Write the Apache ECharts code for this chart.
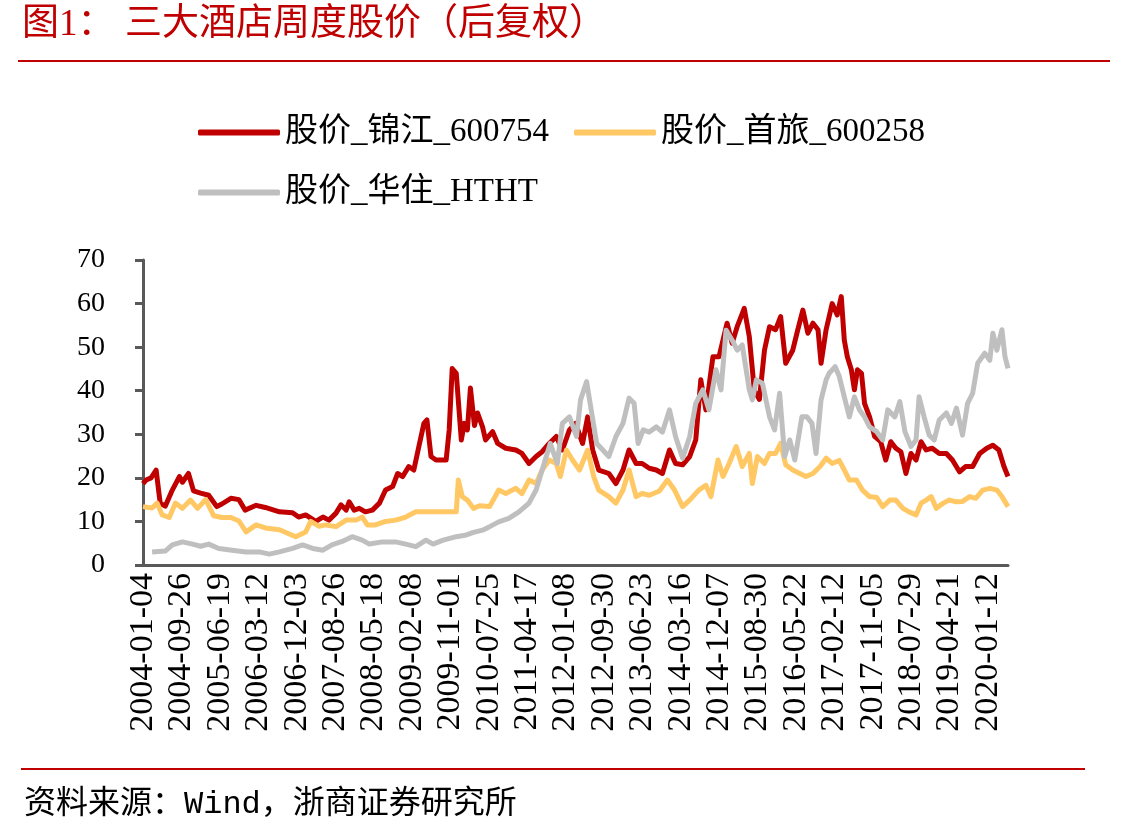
<!DOCTYPE html>
<html>
<head>
    <meta charset="utf-8" />
    <title>三大酒店周度股价</title>
    <style type="text/css">
        html,body{margin:0;padding:0;background-color:#fff;}
        #line{width:1141px;height:838px;}
    </style>
</head>
<body>
<div id="line"></div>
<script src="https://cdn.jsdelivr.net/npm/echarts@6/dist/echarts.min.js"></script>
<script>
    // 周度日期, 2004-01-04 起每周一个
    var startDay = Date.UTC(2004, 0, 4);
    var weekCount = 857;
    var weeks = [];
    for (var i = 0; i < weekCount; i++) {
        weeks.push(new Date(startDay + i * 7 * 86400000).toISOString().slice(0, 10));
    }

    var names = ['股价_锦江_600754', '股价_首旅_600258', '股价_华住_HTHT'];
    var yTicks = [0, 10, 20, 30, 40, 50, 60, 70];

    // [周序号, 股价]
    var jinjiang = [[0,18.7],[3,19.5],[8,20],[13,21.8],[17,14.2],[22,13.5],[29,17.2],[36,20.3],[39,19],[45,21],[50,17],[57,16.5],[65,16],[73,13.4],[78,14],[87,15.3],[95,15],[101,12.6],[112,13.7],[121,13.2],[135,12.2],[148,12],[154,11],[161,11.5],[171,10],[178,11],[184,10.3],[191,11.9],[196,13.8],[201,12.6],[204,14.5],[209,12.6],[214,13],[220,12.2],[227,12.6],[234,14.2],[240,17.2],[247,18],[252,21],[257,20.3],[263,22.6],[268,21.8],[273,27.2],[278,32.5],[281,33.3],[285,24.9],[290,24.1],[300,24.1],[303,31],[306,45.1],[310,44],[315,28.7],[318,32.5],[321,31],[324,40.6],[328,32],[331,34.9],[336,31.7],[339,28.7],[346,30.6],[351,27.9],[359,26.8],[369,26.4],[375,25.6],[382,23.3],[389,24.9],[395,26],[402,27.9],[409,29.5],[415,26.4],[422,31],[428,32.5],[435,27.9],[440,34],[445,26.4],[451,21.8],[461,21],[468,18.7],[475,21.8],[481,26.4],[488,23.3],[494,23.3],[501,22.2],[508,21.8],[514,21],[521,26.4],[527,23.3],[534,23],[541,24.9],[547,28.7],[552,42.5],[557,35.6],[564,47.8],[570,47.8],[578,55.5],[583,50.9],[588,54.7],[595,58.9],[600,52.4],[605,40],[610,38],[615,49.3],[620,54.7],[626,54],[631,57],[636,46.3],[643,49.3],[648,54],[653,58.5],[658,53.2],[663,55.5],[668,54],[671,46.3],[676,54],[682,60],[687,57.4],[691,61.6],[694,51.6],[697,47.8],[701,44.8],[704,40.2],[707,44.8],[711,44],[714,37.1],[719,34],[724,29.5],[730,28.3],[735,24.1],[740,28.3],[745,26.8],[750,26],[755,21],[760,25.6],[765,24.1],[770,28.3],[775,26.4],[781,26.8],[788,25.6],[795,25.6],[801,24.1],[808,21.4],[814,22.6],[821,22.6],[828,25.6],[835,26.8],[841,27.5],[847,26.4],[852,22.6],[856,20.3]];

    var shoulv = [[0,13.4],[9,13.1],[14,14.2],[19,11.5],[26,10.9],[32,14.2],[39,13],[47,14.9],[54,13],[62,15],[70,11.3],[78,10.9],[87,10.9],[95,10.1],[102,7.6],[112,9.2],[121,8.5],[135,8.1],[151,6.5],[161,7.6],[166,10],[174,8.9],[181,9.2],[191,8.8],[201,10.3],[211,10.3],[217,11],[222,9.2],[230,9.2],[240,10],[250,10.3],[260,11],[270,12.2],[280,12.2],[296,12.2],[310,12.2],[312,19.5],[316,15.7],[321,14.9],[327,13],[333,13.6],[343,13.4],[352,17.2],[359,16.4],[369,17.6],[375,16.4],[382,19.5],[389,18.7],[395,21.8],[402,24.1],[409,23.3],[413,20.3],[419,26.4],[425,24.1],[432,21.8],[440,26.4],[446,20.3],[451,17.2],[461,15.7],[468,14.2],[475,17.2],[481,21.8],[488,15.7],[494,16.4],[501,16],[511,17],[519,19.5],[526,17.2],[534,13.4],[541,14.9],[550,17.2],[557,18.3],[562,15.7],[569,24.1],[574,20.3],[580,23.3],[587,27.2],[593,22.6],[600,25.6],[603,18.7],[608,24.9],[615,23.3],[620,25.6],[626,25.6],[631,27.9],[636,23],[643,21.8],[650,21],[656,20.3],[663,21],[670,22.6],[676,24.5],[682,23.3],[689,24],[694,21.8],[699,19.5],[706,19.5],[712,17.2],[719,15.7],[726,15.5],[732,13.4],[739,14.9],[745,14.9],[752,13],[758,12.2],[765,11.5],[770,14.2],[775,14.9],[780,15.7],[785,13],[792,14.2],[798,14.9],[805,14.5],[811,14.6],[818,15.7],[824,15.3],[831,17.2],[838,17.6],[845,17.2],[850,15.7],[856,13.4]];

    var huazhu = [[9,3],[22,3.2],[29,4.6],[39,5.3],[49,4.8],[57,4.3],[65,4.8],[75,3.8],[88,3.4],[102,3],[115,3],[125,2.5],[135,3],[148,3.8],[158,4.6],[168,3.8],[178,3.4],[187,4.6],[197,5.4],[207,6.5],[217,5.7],[224,4.8],[237,5.3],[250,5.3],[260,4.8],[270,4.2],[280,5.7],[287,4.8],[297,5.7],[310,6.5],[320,6.9],[327,7.5],[336,8],[343,8.8],[352,9.9],[362,10.7],[372,12.2],[382,14.2],[389,17.2],[395,21.8],[403,27.9],[410,23.3],[415,32.5],[422,34],[429,29.5],[433,37.9],[439,42.1],[444,34.9],[449,27.9],[455,26.4],[461,24.9],[468,29.5],[475,32.5],[481,38.3],[486,37.1],[490,27.9],[495,31],[501,30.5],[508,31.7],[514,30.5],[521,35.6],[527,29.5],[534,24.5],[541,29.5],[547,37.1],[554,40.2],[560,35.6],[567,44.8],[572,40.2],[577,53.9],[583,51.6],[588,49.3],[593,50.5],[600,40.2],[603,37.9],[607,42.5],[613,41.7],[620,34],[625,31],[630,39.4],[635,24.9],[640,28.7],[645,24.1],[652,34],[657,34],[662,32.5],[666,25.6],[671,37.9],[676,42.5],[679,44],[685,45.5],[689,43.3],[694,38.6],[699,34],[704,38.6],[709,35.6],[714,34],[719,31.7],[726,30.6],[732,28.7],[737,35.6],[744,34],[749,37.5],[754,30.6],[760,27.2],[765,28.7],[768,38.6],[773,34],[778,29.8],[783,28.7],[788,33.3],[795,34.9],[800,32.5],[805,36],[811,29.8],[816,37.1],[821,39.4],[826,46.3],[833,48.6],[838,47],[841,53.2],[845,49.3],[850,54],[853,47.8],[856,45.1]];

    var serif = '"Liberation Serif", "Noto Sans CJK SC", serif';
    var red = '#c00000';

    var line = echarts.init(document.getElementById('line'));
    line.setOption({
        animation: false,
        color: [red, '#ffc864', '#bfbfbf'],
        graphic: [
            {type: 'text', left: 22, top: 7, style: {text: '图1：', font: '37px ' + serif, fill: red}},
            {type: 'text', left: 125, top: 7, style: {text: '三大酒店周度股价（后复权）', font: '37px ' + serif, fill: red}},
            {type: 'line', shape: {x1: 18, y1: 61, x2: 1110, y2: 61}, style: {stroke: red, lineWidth: 2}},
            {type: 'line', shape: {x1: 21, y1: 769, x2: 1085, y2: 769}, style: {stroke: red, lineWidth: 2}},
            {type: 'text', left: 24, top: 789, style: {text: '资料来源：Wind，浙商证券研究所', font: '32px "Liberation Mono", "Noto Sans CJK SC", monospace', fill: '#000'}}
        ],
        legend: {
            left: 193,
            top: 110,
            width: 800,
            itemWidth: 82,
            itemHeight: 6,
            itemGap: 25,
            icon: 'roundRect',
            textStyle: {fontFamily: serif, fontSize: 33, color: '#000', lineHeight: 35},
            data: names
        },
        grid: {left: 143, right: 133, top: 260, bottom: 273},
        xAxis: {
            type: 'category',
            boundaryGap: false,
            data: weeks,
            axisLine: {lineStyle: {color: '#595959', width: 3}},
            axisTick: {show: false},
            axisLabel: {
                interval: 37,
                rotate: 90,
                margin: 8,
                fontFamily: serif,
                fontSize: 34,
                color: '#000'
            }
        },
        yAxis: {
            type: 'value',
            min: yTicks[0],
            max: yTicks[yTicks.length - 1],
            interval: 10,
            splitLine: {show: false},
            axisLine: {show: true, lineStyle: {color: '#595959', width: 3}},
            axisTick: {show: true, length: 8, lineStyle: {color: '#595959', width: 3}},
            axisLabel: {margin: 38, fontFamily: serif, fontSize: 28, color: '#000'}
        },
        series: [
            {name: names[0], type: 'line', data: jinjiang, showSymbol: false, lineStyle: {width: 5, join: 'round'}},
            {name: names[1], type: 'line', data: shoulv, showSymbol: false, lineStyle: {width: 5, join: 'round'}},
            {name: names[2], type: 'line', data: huazhu, showSymbol: false, lineStyle: {width: 5, join: 'round'}}
        ]
    });
</script>
</body>
</html>
